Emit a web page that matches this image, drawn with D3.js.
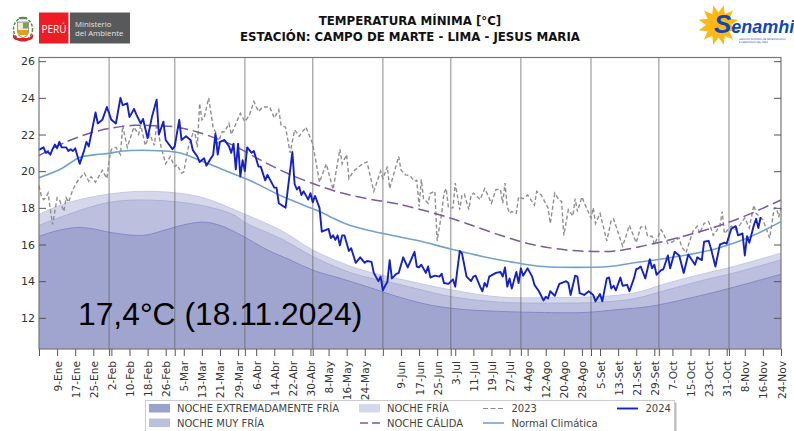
<!DOCTYPE html>
<html>
<head>
<meta charset="utf-8">
<script src="https://cdn.jsdelivr.net/npm/d3@7"></script>
<style>
  html, body { margin: 0; padding: 0; background: #fff; overflow: hidden; }
  svg { display: block; }
  text { font-family: "DejaVu Sans", sans-serif; }
</style>
</head>
<body>
<svg id="chart" width="794" height="431"></svg>
<script>
const yTicks = [12, 14, 16, 18, 20, 22, 24, 26];
const monthDays = [31, 60, 91, 121, 152, 182, 213, 244, 274, 305];
const tickDays = [8, 16, 24, 32, 40, 48, 56, 64, 72, 80, 88, 96, 104, 112, 120, 128, 136, 144, 160, 168, 176, 184, 192, 200, 208, 216, 224, 232, 240, 248, 256, 264, 272, 280, 288, 296, 304, 312, 320, 328];
const tickLabels = ["9-Ene", "17-Ene", "25-Ene", "2-Feb", "10-Feb", "18-Feb", "26-Feb", "5-Mar", "13-Mar", "21-Mar", "29-Mar", "6-Abr", "14-Abr", "22-Abr", "30-Abr", "8-May", "16-May", "24-May", "9-Jun", "17-Jun", "25-Jun", "3-Jul", "11-Jul", "19-Jul", "27-Jul", "4-Ago", "12-Ago", "20-Ago", "28-Ago", "5-Set", "13-Set", "21-Set", "29-Set", "7-Oct", "15-Oct", "23-Oct", "31-Oct", "8-Nov", "16-Nov", "24-Nov"];

const days2024 = [0,2,3,4,5,6,7,8,9,10,12,13,14,15,16,18,20,21,22,25,26,28,30,32,34,36,37,39,40,42,43,45,46,48,50,52,53,55,56,59,60,62,63,65,67,68,70,71,73,74,76,77,78,79,80,82,84,85,86,87,88,89,90,91,92,94,95,97,98,100,101,104,105,106,109,112,113,114,115,116,117,119,120,121,122,124,125,128,129,130,131,132,133,134,135,137,138,140,142,144,145,147,148,150,151,152,153,154,155,156,158,159,161,163,166,167,168,169,171,172,173,175,177,178,179,181,183,184,186,187,189,191,192,193,195,196,197,198,199,202,204,205,206,207,208,209,211,212,213,214,216,218,219,221,223,224,225,226,228,230,232,233,234,235,237,238,239,241,243,245,246,248,249,251,252,253,254,255,257,258,260,261,263,264,265,266,268,270,271,272,273,275,276,278,279,281,283,285,287,290,291,293,294,296,297,299,301,302,303,304,306,308,309,311,312,313,314,316,317,318,319];
const temp2024 = [21.16,21.3,21.0,21.05,20.9,21.2,21.45,21.25,21.6,21.3,21.3,21.1,21.2,21.1,21.25,20.4,21.15,21.6,21.35,23.2,22.6,22.8,23.5,22.8,22.6,24.0,23.6,23.7,22.95,23.4,23.1,22.6,22.85,21.8,23.0,23.9,22.0,22.7,21.7,21.2,21.35,22.8,21.7,21.9,21.7,21.15,20.8,20.5,20.7,20.3,20.7,20.9,22.05,20.9,21.6,21.7,21.35,21.0,21.5,20.1,21.5,19.7,20.6,20.0,21.3,21.0,21.1,20.25,20.25,19.5,19.8,19.1,19.1,18.25,18.0,21.05,19.3,19.0,19.15,18.7,18.9,18.45,18.8,18.3,18.65,18.0,16.7,16.85,16.35,16.5,16.25,16.5,15.95,16.5,16.5,15.65,15.8,15.0,15.3,15.0,15.1,15.05,14.45,14.0,14.25,13.5,13.75,13.95,15.15,14.15,14.4,14.45,15.3,14.75,15.6,14.8,14.75,14.9,14.45,14.8,14.2,14.3,14.25,14.4,13.9,13.85,14.1,13.7,15.65,15.5,14.25,14.0,14.25,14.3,13.7,13.45,13.9,13.7,14.25,14.45,14.5,14.25,14.75,13.7,14.15,13.6,14.5,13.9,14.7,14.3,14.7,14.25,13.8,13.45,12.95,13.15,13.05,13.45,13.2,13.85,13.95,14.0,13.9,13.25,14.3,14.25,13.35,13.25,13.45,13.25,12.9,13.3,12.9,14.15,14.2,13.6,13.75,13.5,14.2,13.75,13.8,13.45,14.15,14.65,14.7,14.8,14.15,15.2,14.7,14.9,14.35,14.6,14.65,15.4,14.7,15.6,15.4,14.45,15.45,14.9,15.3,15.15,16.15,16.2,15.8,14.8,16.0,16.05,16.1,16.05,16.85,17.0,16.5,16.6,15.4,16.45,16.1,17.05,17.4,16.9,17.5];

const days2023 = [0,1,2,3,4,5,6,7,8,9,11,12,13,15,17,20,22,23,25,28,30,31,32,34,36,37,39,41,42,44,45,47,49,51,52,54,56,58,60,61,63,64,66,68,69,70,71,72,73,75,77,78,79,81,82,84,85,89,91,93,95,97,99,102,104,106,107,109,111,113,115,118,121,124,127,130,133,134,136,137,139,143,145,148,151,152,154,155,159,160,162,164,166,167,168,169,170,172,173,175,176,178,179,180,181,183,184,186,187,188,190,191,192,195,197,198,200,202,204,205,206,207,208,209,211,212,214,216,219,220,222,225,226,228,230,231,232,234,236,237,238,240,242,244,245,246,248,251,253,254,258,261,264,266,268,269,271,272,275,276,278,280,283,284,286,289,291,292,294,296,297,298,301,302,303,306,308,310,312,314,316,317,320,323,325,326,327,328];
const temp2023 = [19.2,18.65,18.45,18.55,18.8,17.9,17.1,17.8,18.55,18.45,17.8,18.55,18.3,19.0,19.45,19.9,19.45,19.7,19.4,20.05,19.6,20.6,21.2,21.3,20.9,22.5,21.3,22.05,22.4,22.0,22.5,21.4,22.0,21.4,22.6,21.3,20.4,20.8,20.25,20.35,19.9,19.95,21.3,22.05,22.05,21.3,23.7,22.8,22.9,24.0,22.35,22.15,21.5,22.15,22.15,22.6,22.0,23.15,22.7,23.05,23.8,23.25,23.5,23.5,22.9,23.35,22.5,22.4,21.0,22.25,21.9,22.4,21.5,19.4,20.4,19.0,21.2,20.4,20.9,19.6,20.0,20.4,20.5,18.9,20.0,19.6,20.25,19.05,20.8,20.07,19.8,19.75,19.45,19.5,18.07,19.55,18.5,18.25,18.8,18.9,16.2,17.7,18.8,19.05,18.0,18.0,19.35,17.9,18.7,18.75,17.9,18.7,18.8,18.45,19.05,18.8,18.25,19.0,19.0,18.25,19.35,18.05,17.7,17.8,17.7,18.6,18.5,18.7,18.15,18.9,18.7,18.0,17.15,18.8,18.4,18.35,16.5,17.9,17.55,18.5,17.8,18.6,18.0,17.45,18.0,17.15,17.7,16.2,17.35,17.4,15.9,17.05,16.1,16.95,17.0,16.45,16.45,16.0,16.8,16.6,16.05,16.15,16.35,15.9,15.55,16.7,17.0,16.6,17.15,17.25,16.9,16.5,17.0,17.8,16.6,17.0,16.8,17.1,17.45,16.9,18.15,17.7,17.35,16.35,18.0,18.0,17.5,18.0];

const normalDays = [0,10,18,25,31,37,55,62,71,83,93,108,123,137,160,168,182,196,211,223,252,263,285,300,314,328];
const normalTemp = [19.64,20.15,20.75,20.9,20.97,21.1,21.1,21.0,20.6,20.0,19.5,18.6,17.85,17.07,16.4,16.2,15.75,15.35,15.0,14.8,14.8,15.0,15.4,15.8,16.4,17.25];

const warmDays = [0,12,22,31,42,52,61,71,86,98,110,121,132,145,159,177,189,204,218,233,245,255,270,285,300,313,328];
const warmTemp = [20.85,21.6,22.05,22.33,22.5,22.47,22.4,22.1,21.4,20.6,19.87,19.33,18.87,18.5,18.2,17.62,17.15,16.5,16.0,15.7,15.62,15.65,16.0,16.45,17.0,17.6,18.43];

const extremeDays = [0,8,17,24,31,42,48,56,65,73,80,89,101,111,121,133,145,160,174,189,204,218,241,255,270,285,300,314,328];
const extremeTemp = [16.44,16.75,16.93,16.85,16.67,16.5,16.53,16.8,17.1,17.22,17.04,16.53,15.7,15.16,14.6,14.16,13.7,13.1,12.67,12.44,12.35,12.3,12.29,12.44,12.62,13.0,13.44,13.9,14.38];
const veryColdDays = [0,12,31,49,71,86,91,108,121,138,160,182,204,226,248,263,278,292,307,328];
const veryColdTemp = [17.04,17.6,18.3,18.42,18.15,17.62,17.2,16.25,15.35,14.45,13.8,13.16,12.85,12.8,12.85,13.04,13.53,14.0,14.44,15.16];
const coldDays = [0,12,31,49,71,91,108,121,138,149,160,182,204,226,248,263,278,292,307,328];
const coldTemp = [17.65,18.25,18.75,18.9,18.6,17.65,16.7,15.7,14.8,14.4,14.1,13.53,13.13,13.1,13.16,13.35,13.9,14.35,14.8,15.53];

const legendNames = ["NOCHE EXTREMADAMENTE FRÍA", "NOCHE MUY FRÍA", "NOCHE FRÍA", "NOCHE CÁLIDA", "2023", "Normal Climática", "2024"];

const svg = d3.select("#chart");
const margin = { top: 57.5, right: 13, bottom: 82, left: 39 };
const width = 794;
const height = 431;

const x = d3.scaleLinear().domain([0, 328]).range([margin.left, width - margin.right]);
const y = d3.scaleLinear().domain([10.3, 26.2]).range([height - margin.bottom, margin.top]);
const baseY = y.range()[0];

const line = d3.line().x((d) => x(d[0])).y((d) => y(d[1]));
const smooth = d3.line().x((d) => x(d[0])).y((d) => y(d[1])).curve(d3.curveCatmullRom.alpha(0.5));
const band = d3.area().x((d) => x(d[0])).y0(baseY).y1((d) => y(d[1])).curve(d3.curveCatmullRom.alpha(0.5));

// stacked climate bands, lightest at the back
const bands = [
  { days: coldDays, temp: coldTemp, fill: "#d5d7ea", edge: "#c6c9e3" },
  { days: veryColdDays, temp: veryColdTemp, fill: "#bcc0de", edge: "#acb1d7" },
  { days: extremeDays, temp: extremeTemp, fill: "#a0a5d0", edge: "#8389c6" },
];
bands.forEach((b) => {
  const rows = d3.zip(b.days, b.temp);
  svg.append("path").attr("d", band(rows)).attr("fill", b.fill);
  svg.append("path").attr("d", smooth(rows)).attr("fill", "none").attr("stroke", b.edge).attr("stroke-width", 1);
});

svg.append("g")
  .selectAll("line")
  .data(monthDays)
  .join("line")
  .attr("x1", (d) => x(d))
  .attr("x2", (d) => x(d))
  .attr("y1", margin.top)
  .attr("y2", baseY)
  .attr("stroke", "#666")
  .attr("stroke-opacity", 0.55)
  .attr("stroke-width", 1.4);

svg.append("path")
  .attr("d", line(d3.zip(days2023, temp2023)))
  .attr("fill", "none")
  .attr("stroke", "#8e8e8e")
  .attr("stroke-width", 1.4)
  .attr("stroke-dasharray", "4,2.5");

svg.append("path")
  .attr("d", smooth(d3.zip(warmDays, warmTemp)))
  .attr("fill", "none")
  .attr("stroke", "#7a5a9c")
  .attr("stroke-width", 1.5)
  .attr("stroke-dasharray", "11,5");

svg.append("path")
  .attr("d", smooth(d3.zip(normalDays, normalTemp)))
  .attr("fill", "none")
  .attr("stroke", "#72a2c8")
  .attr("stroke-width", 1.6);

svg.append("path")
  .attr("d", line(d3.zip(days2024, temp2024)))
  .attr("fill", "none")
  .attr("stroke", "#1421c6")
  .attr("stroke-width", 1.9)
  .attr("stroke-linejoin", "round");

// frame
svg.append("rect")
  .attr("x", margin.left)
  .attr("y", margin.top)
  .attr("width", width - margin.left - margin.right)
  .attr("height", baseY - margin.top)
  .attr("fill", "none")
  .attr("stroke", "#777")
  .attr("stroke-width", 1.2);

const styleAxis = (sel) => {
  sel.select(".domain").remove();
  sel.selectAll("line").attr("stroke", "#555").attr("stroke-width", 1);
  sel.selectAll("text").attr("fill", "#333").style("font-family", '"DejaVu Sans", sans-serif').style("font-size", "11px");
};

svg.append("g")
  .attr("transform", `translate(${margin.left},0)`)
  .call(d3.axisLeft(y).tickValues(yTicks).tickSizeInner(-7).tickSizeOuter(0).tickPadding(4))
  .call(styleAxis)
  .call((sel) => sel.selectAll("text").attr("x", -4));

svg.append("g")
  .attr("transform", `translate(${width - margin.right},0)`)
  .call(d3.axisRight(y).tickValues(yTicks).tickSizeInner(-7).tickSizeOuter(0).tickFormat(""))
  .call(styleAxis);

const labelByDay = new Map(d3.zip(tickDays, tickLabels));
const allTicks = [0].concat(monthDays, tickDays).sort(d3.ascending);

svg.append("g")
  .attr("transform", `translate(0,${baseY})`)
  .call(d3.axisBottom(x).tickValues(allTicks).tickSizeInner(7).tickSizeOuter(0).tickFormat((d) => labelByDay.get(d) || ""))
  .call(styleAxis)
  .call((sel) => sel.selectAll("text")
    .attr("transform", "rotate(-90)")
    .attr("text-anchor", "end")
    .attr("dominant-baseline", "central")
    .attr("dy", 0)
    .attr("x", -12)
    .attr("y", 0)
    .style("font-size", "10.6px"));

svg.append("text")
  .attr("x", 78)
  .attr("y", 325)
  .attr("fill", "#000")
  .style("font-family", '"Liberation Sans", Arial, sans-serif')
  .style("font-size", "31.8px")
  .text("17,4°C (18.11.2024)");

// title
const title = svg.append("g").attr("text-anchor", "middle").attr("fill", "#111").style("font-weight", "bold").style("font-size", "11.8px");
title.append("text").attr("x", 410).attr("y", 25).text("TEMPERATURA MÍNIMA [°C]");
title.append("text").attr("x", 410).attr("y", 41).text("ESTACIÓN: CAMPO DE MARTE - LIMA - JESUS MARIA");

// legend, runs off the bottom of the picture as in the source
const legend = svg.append("g");
legend.append("rect").attr("x", 147.5).attr("y", 402.5).attr("width", 529).attr("height", 50).attr("fill", "#bbb");
legend.append("rect").attr("x", 145.5).attr("y", 400.5).attr("width", 529).attr("height", 50).attr("fill", "#fff").attr("stroke", "#ccc");

const swatches = [
  { col: 149, row: 0, fill: "#9ba1cf" },
  { col: 149, row: 1, fill: "#bcc0de" },
  { col: 359, row: 0, fill: "#d5d7ea" },
];
const rowY = [408.5, 423];
swatches.forEach((s) => {
  legend.append("rect").attr("x", s.col).attr("y", rowY[s.row] - 4.5).attr("width", 21).attr("height", 8.5).attr("fill", s.fill);
});
const legendLines = [
  { x1: 360, row: 1, stroke: "#7a5a9c", dash: "8,4", w: 1.5 },
  { x1: 483, row: 0, stroke: "#8c8c8c", dash: "5,2.5", w: 1.2 },
  { x1: 483, row: 1, stroke: "#72a2c8", dash: null, w: 1.6 },
  { x1: 617, row: 0, stroke: "#1421c6", dash: null, w: 1.9 },
];
legendLines.forEach((l) => {
  legend.append("line")
    .attr("x1", l.x1).attr("x2", l.x1 + 21)
    .attr("y1", rowY[l.row]).attr("y2", rowY[l.row])
    .attr("stroke", l.stroke).attr("stroke-width", l.w).attr("stroke-dasharray", l.dash);
});
const legendPlace = [[177, 0], [177, 1], [387, 0], [387, 1], [511.5, 0], [511.5, 1], [645.5, 0]];
legendNames.forEach((name, i) => {
  legend.append("text")
    .attr("x", legendPlace[i][0])
    .attr("y", rowY[legendPlace[i][1]])
    .attr("dominant-baseline", "central")
    .attr("fill", "#444")
    .style("font-size", "10px")
    .text(name);
});

// ministry logo
const peru = svg.append("g");
peru.append("rect").attr("x", 39).attr("y", 12.5).attr("width", 29.5).attr("height", 31).attr("fill", "#ee1c25");
peru.append("rect").attr("x", 70).attr("y", 12.5).attr("width", 60).attr("height", 31).attr("fill", "#58595b");
peru.append("text").attr("x", 41.5).attr("y", 33).attr("fill", "#fff").style("font-family", '"Open Sans", sans-serif').style("font-size", "10px").text("PERÚ");
const ministry = peru.append("text").attr("fill", "#e4e4e4").style("font-family", '"Open Sans", sans-serif').style("font-size", "7.8px");
ministry.append("tspan").attr("x", 75).attr("y", 26.7).text("Ministerio");
ministry.append("tspan").attr("x", 75).attr("y", 35.5).text("del Ambiente");
// coat of arms, small and rough
const arms = svg.append("g").attr("transform", "translate(23,29)");
arms.append("ellipse").attr("rx", 9.5).attr("ry", 11).attr("fill", "none").attr("stroke", "#5a8a4a").attr("stroke-width", 1.5).attr("stroke-dasharray", "3,1.5");
arms.append("path").attr("d", "M-5.5,-7H5.5V3Q5.5,7 0,9Q-5.5,7 -5.5,3Z").attr("fill", "#f3ecd2").attr("stroke", "#555").attr("stroke-width", 0.6);
arms.append("rect").attr("x", 0).attr("y", -6.5).attr("width", 5).attr("height", 6).attr("fill", "#7da05a");
arms.append("rect").attr("x", -5).attr("y", 1).attr("width", 10).attr("height", 5).attr("fill", "#d9a520");
arms.append("path").attr("d", "M-10,5Q-11,10 -7,11L-2,12.5H2L7,11Q11,10 10,5L6,9H-6Z").attr("fill", "#d8222a");
arms.append("ellipse").attr("cy", -11).attr("rx", 4.5).attr("ry", 1.3).attr("fill", "#5a8a4a");

// senamhi logo
const sun = svg.append("g").attr("transform", "translate(718.5,25)");
const rays = d3.range(12).map((i) => {
  const a0 = (i / 12) * 2 * Math.PI;
  const a1 = a0 + Math.PI / 12;
  const a2 = a0 + Math.PI / 6;
  return [[12.5 * Math.cos(a0), 12.5 * Math.sin(a0)], [20.5 * Math.cos(a1), 20.5 * Math.sin(a1)], [12.5 * Math.cos(a2), 12.5 * Math.sin(a2)]];
}).flat();
sun.append("path").attr("d", d3.line().curve(d3.curveLinearClosed)(rays)).attr("fill", "#fdb813");

const senamhi = svg.append("text").attr("fill", "#0f47b8").style("font-family", '"Liberation Sans", sans-serif').style("font-weight", "bold").style("font-style", "italic");
senamhi.append("tspan").attr("x", 714).attr("y", 33).style("font-size", "26px").text("S");
senamhi.append("tspan").style("font-size", "18px").text("enamhi");
const agency = svg.append("g").attr("fill", "#0f47b8").style("font-family", '"Liberation Sans", sans-serif').style("font-size", "2.3px");
agency.append("text").attr("x", 739).attr("y", 40).text("SERVICIO NACIONAL DE METEOROLOGÍA");
agency.append("text").attr("x", 739).attr("y", 43).text("E HIDROLOGÍA DEL PERÚ");
</script>
</body>
</html>
